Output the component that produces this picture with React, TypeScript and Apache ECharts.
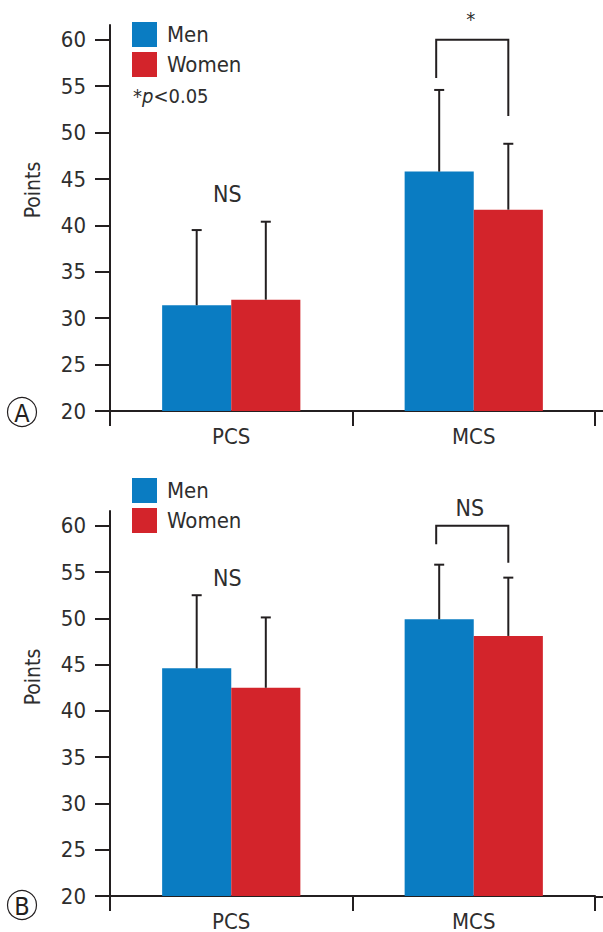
import React, { useEffect, useRef } from "react";
import * as echarts from "echarts";

const categories = ["PCS", "MCS"];
const seriesNames = ["Men", "Women"];
const tickValues = [20, 25, 30, 35, 40, 45, 50, 55, 60];

// Panel A
const menA = [31.4, 45.8];
const womenA = [32.0, 41.7];
const menUpperA = [39.5, 54.6];
const womenUpperA = [40.4, 48.8];
// bracket: [category, left end, top, right end]
const bracketA = [[1, 55.9, 60, 51.8]];
const notesA = [
  { cat: 0, y: 43.4, text: "NS" },
  { cat: 1, y: 62.2, text: "*" },
];

// Panel B
const menB = [44.6, 49.9];
const womenB = [42.5, 48.1];
const menUpperB = [52.5, 55.8];
const womenUpperB = [50.1, 54.4];
const bracketB = [[1, 58.0, 60, 56.0]];
const notesB = [
  { cat: 0, y: 54.4, text: "NS" },
  { cat: 1, y: 61.9, text: "NS" },
];

const FONT = "'Liberation Sans Narrow','DejaVu Sans Condensed','Roboto Condensed',sans-serif";
const INK = "#231f20";
const TXT = "#2e2e2e";
const BLUE = "#0a7cc2";
const RED = "#d3242b";
const GAP = 0.43;

function errorData(men: number[], menU: number[], women: number[], womenU: number[]) {
  const out: number[][] = [];
  men.forEach((v, i) => out.push([i, v, menU[i], 0]));
  women.forEach((v, i) => out.push([i, v, womenU[i], 1]));
  return out;
}

const errorRender = (params: any, api: any) => {
  const cat = api.value(0);
  const g = api.value(3);
  const base = api.coord([cat, api.value(1)]);
  const top = api.coord([cat, api.value(2)]);
  const band = api.size([1, 0])[0];
  const barW = (band * (1 - GAP)) / 2;
  const x = base[0] + (g === 0 ? -barW / 2 : barW / 2);
  const style = { stroke: INK, lineWidth: 2, fill: null };
  return {
    type: "group",
    children: [
      { type: "line", shape: { x1: x, y1: base[1], x2: x, y2: top[1] }, style },
      { type: "line", shape: { x1: x - 5, y1: top[1], x2: x + 5, y2: top[1] }, style },
    ],
  };
};

const bracketRender = (params: any, api: any) => {
  const cat = api.value(0);
  const l = api.coord([cat, api.value(1)]);
  const t = api.coord([cat, api.value(2)]);
  const r = api.coord([cat, api.value(3)]);
  const band = api.size([1, 0])[0];
  const barW = (band * (1 - GAP)) / 2;
  const xl = l[0] - barW / 2 - 3;
  const xr = l[0] + barW / 2;
  return {
    type: "polyline",
    shape: { points: [[xl, l[1]], [xl, t[1]], [xr, t[1]], [xr, r[1]]] },
    style: { stroke: INK, lineWidth: 2, fill: null },
  };
};

function noteRender(notes: { cat: number; y: number; text: string }[]) {
  return (params: any, api: any) => {
    const idx = params.dataIndex;
    const p = api.coord([api.value(0), api.value(1)]);
    const isStar = notes[idx].text === "*";
    return {
      type: "text",
      x: p[0] - (isStar ? 3 : 4),
      y: p[1],
      style: {
        text: notes[idx].text,
        fill: TXT,
        fontSize: isStar ? 20 : 23,
        fontFamily: FONT,
        align: "center",
        verticalAlign: "middle",
      },
    };
  };
}

function xAxis(gridIndex: number) {
  return {
    type: "category",
    gridIndex,
    data: categories,
    axisLine: { lineStyle: { color: INK, width: 2 } },
    axisTick: { show: true, length: 15, lineStyle: { color: INK, width: 2 } },
    axisLabel: { fontSize: 22, color: TXT, fontFamily: FONT, margin: 14 },
  };
}

function yAxis(gridIndex: number) {
  return {
    type: "value",
    gridIndex,
    min: 20,
    max: 61.6,
    interval: 5,
    splitLine: { show: false },
    axisLine: { show: true, lineStyle: { color: INK, width: 2 } },
    axisTick: { show: true, length: 15, customValues: tickValues, lineStyle: { color: INK, width: 2 } },
    axisLabel: { fontSize: 22, color: TXT, fontFamily: FONT, margin: 24, customValues: tickValues },
  };
}

function panelSeries(
  idx: number,
  men: number[],
  women: number[],
  menU: number[],
  womenU: number[],
  bracket: number[][],
  notes: { cat: number; y: number; text: string }[]
) {
  return [
    {
      name: seriesNames[0],
      type: "bar",
      xAxisIndex: idx,
      yAxisIndex: idx,
      data: men,
      barGap: "0%",
      barCategoryGap: GAP * 100 + "%",
      itemStyle: { color: BLUE },
    },
    {
      name: seriesNames[1],
      type: "bar",
      xAxisIndex: idx,
      yAxisIndex: idx,
      data: women,
      barGap: "0%",
      barCategoryGap: GAP * 100 + "%",
      itemStyle: { color: RED },
    },
    {
      type: "custom",
      xAxisIndex: idx,
      yAxisIndex: idx,
      data: errorData(men, menU, women, womenU),
      renderItem: errorRender,
      encode: { x: 0, y: [1, 2] },
      z: 5,
      silent: true,
    },
    {
      type: "custom",
      xAxisIndex: idx,
      yAxisIndex: idx,
      data: bracket,
      renderItem: bracketRender,
      encode: { x: 0, y: [1, 2, 3] },
      clip: false,
      silent: true,
    },
    {
      type: "custom",
      xAxisIndex: idx,
      yAxisIndex: idx,
      data: notes.map((n) => [n.cat, n.y]),
      renderItem: noteRender(notes),
      encode: { x: 0, y: 1 },
      clip: false,
      silent: true,
    },
  ];
}

function legend(top: number) {
  return {
    data: seriesNames,
    orient: "vertical",
    left: 132,
    top,
    padding: 0,
    itemWidth: 25,
    itemHeight: 25,
    itemGap: 5,
    icon: "rect",
    selectedMode: false,
    textStyle: { fontSize: 22, color: TXT, fontFamily: FONT, padding: [0, 0, 0, 5] },
  };
}

function circleLabel(cx: number, cy: number, letter: string) {
  return {
    type: "group",
    children: [
      { type: "circle", shape: { cx, cy, r: 14.5 }, style: { fill: "#fff", stroke: INK, lineWidth: 1.2 } },
      {
        type: "text",
        x: cx,
        y: cy + 1,
        style: { text: letter, fontSize: 25, fontFamily: FONT, fill: INK, align: "center", verticalAlign: "middle" },
      },
    ],
  };
}

function pointsLabel(y: number) {
  return {
    type: "text",
    x: 33,
    y,
    rotation: Math.PI / 2,
    style: { text: "Points", fontSize: 21, fontFamily: FONT, fill: TXT, align: "center", verticalAlign: "middle" },
  };
}

export default function App() {
  const ref = useRef<HTMLDivElement>(null);
  useEffect(() => {
    if (!ref.current) return;
    const chart = echarts.init(ref.current, undefined, { renderer: "svg" });
    chart.setOption({
      animation: false,
      backgroundColor: "#ffffff",
      grid: [
        { left: 110, right: 8, top: 25, bottom: 521 },
        { left: 110, right: 8, top: 511, bottom: 35 },
      ],
      xAxis: [xAxis(0), xAxis(1)],
      yAxis: [yAxis(0), yAxis(1)],
      legend: [legend(22), legend(478)],
      series: [
        ...panelSeries(0, menA, womenA, menUpperA, womenUpperA, bracketA, notesA),
        ...panelSeries(1, menB, womenB, menUpperB, womenUpperB, bracketB, notesB),
      ],
      graphic: [
        pointsLabel(190),
        pointsLabel(677),
        circleLabel(22, 412, "A"),
        circleLabel(22, 905, "B"),
        {
          type: "text",
          left: 133,
          top: 86,
          style: {
            text: "*{i|p}<0.05",
            fontSize: 20,
            fontFamily: FONT,
            fill: TXT,
            rich: { i: { fontStyle: "italic", fontSize: 20, fontFamily: FONT, fill: TXT } },
          },
        },
        { type: "line", shape: { x1: 594, y1: 411, x2: 603, y2: 411 }, style: { stroke: INK, lineWidth: 2 } },
        { type: "line", shape: { x1: 594, y1: 897, x2: 603, y2: 897 }, style: { stroke: INK, lineWidth: 2 } },
      ],
    });
    return () => chart.dispose();
  }, []);
  return (
    <div
      ref={ref}
      style={{ position: "absolute", left: 0, top: 0, width: 603, height: 932, background: "#fff" }}
    />
  );
}
